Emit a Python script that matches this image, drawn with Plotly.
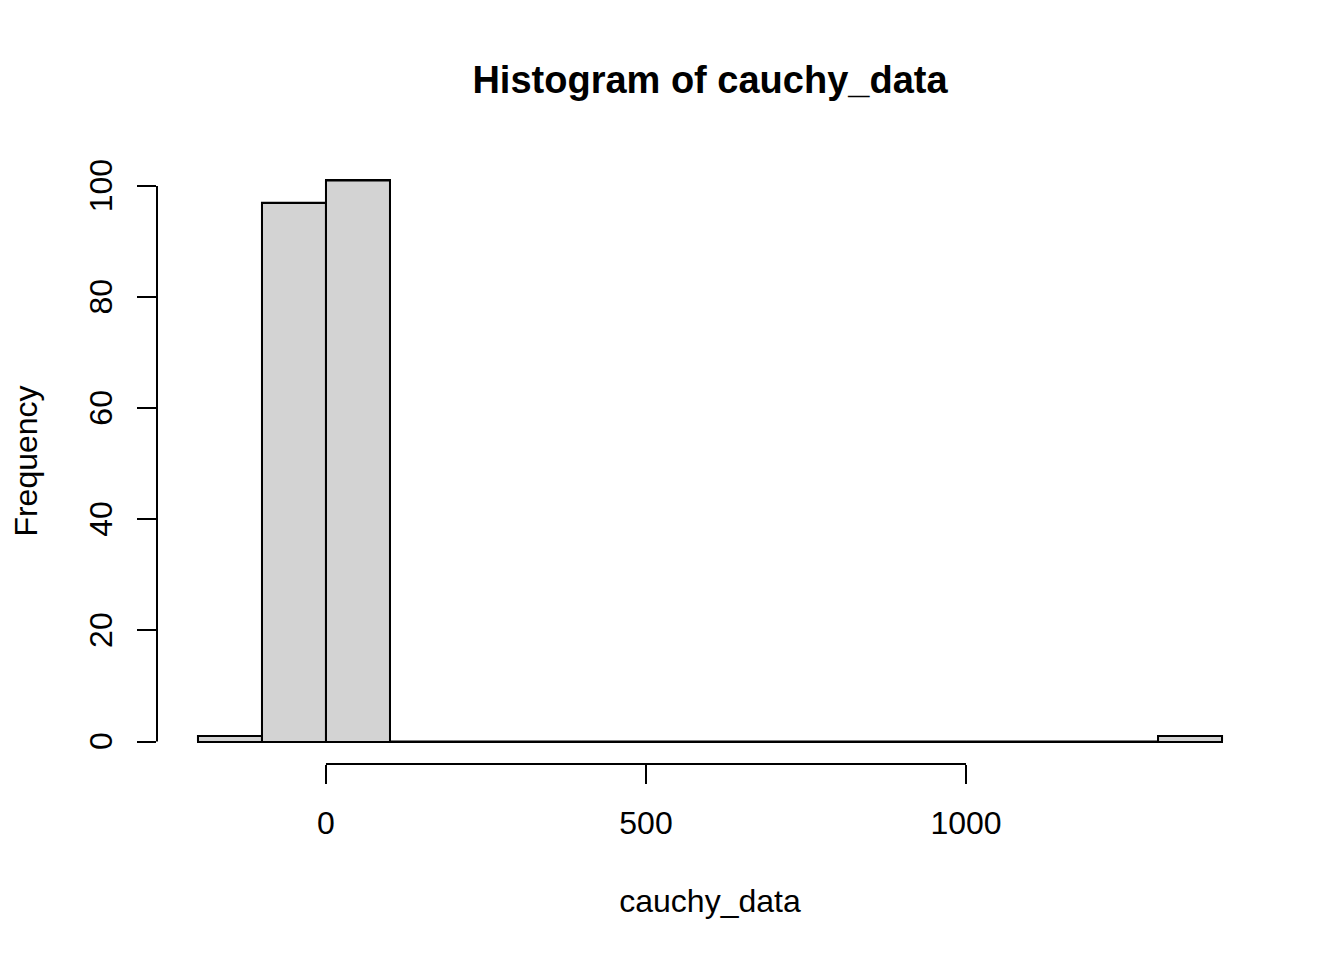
import plotly.graph_objects as go

bin_edges = [-200, -100, 0, 100, 200, 300, 400, 500, 600, 700, 800, 900, 1000, 1100, 1200, 1300, 1400]
counts = [1, 97, 101, 0, 0, 0, 0, 0, 0, 0, 0, 0, 0, 0, 0, 1]
x_ticks = [0, 500, 1000]
y_ticks = [0, 20, 40, 60, 80, 100]

centers = [(a + b) / 2 for a, b in zip(bin_edges[:-1], bin_edges[1:])]
widths = [b - a for a, b in zip(bin_edges[:-1], bin_edges[1:])]

FONT = "Liberation Sans, Arial, sans-serif"

fig = go.Figure()
fig.add_trace(go.Bar(
    x=centers, y=counts, width=widths,
    marker=dict(color="#D3D3D3", line=dict(color="black", width=2)),
    hoverinfo="skip", showlegend=False,
))

# outline of zero-height bins (flat borders)
ox, oy = [], []
for a, b, c in zip(bin_edges[:-1], bin_edges[1:], counts):
    ox += [a, a, b, b, None]
    oy += [0, c, c, 0, None]
fig.add_trace(go.Scatter(x=ox, y=oy, mode="lines", line=dict(color="black", width=2),
                         hoverinfo="skip", showlegend=False, connectgaps=False))

xmin, xmax = bin_edges[0], bin_edges[-1]
xr = [xmin - 0.04 * (xmax - xmin), xmax + 0.04 * (xmax - xmin)]
ymax = max(counts)
yr = [-0.04 * ymax, ymax * 1.04]

# axis segments spanning tick range only (R style)
fig.add_shape(type="line", xref="x", yref="paper", x0=x_ticks[0], x1=x_ticks[-1], y0=0, y1=0,
              line=dict(color="black", width=2))
fig.add_shape(type="line", xref="paper", yref="y", x0=0, x1=0, y0=y_ticks[0], y1=y_ticks[-1],
              line=dict(color="black", width=2))

fig.update_layout(
    width=1344, height=960,
    margin=dict(l=149, r=89, t=150, b=204),
    paper_bgcolor="white", plot_bgcolor="white",
    bargap=0,
    font=dict(family=FONT, size=32, color="black"),
    title=dict(text="<b>Histogram of cauchy_data</b>", x=0.5, xref="paper", xanchor="center",
               y=1 - 72 / 960, yanchor="middle", font=dict(size=38, family=FONT, color="black")),
    xaxis=dict(range=xr, showgrid=False, zeroline=False, showline=False, automargin=False,
               tickvals=x_ticks, ticktext=[str(v) for v in x_ticks],
               ticks="outside", ticklen=19, tickwidth=2, tickcolor="black",
               ticklabelstandoff=12,
               title=dict(text="cauchy_data", font=dict(size=32), standoff=49)),
    yaxis=dict(range=yr, showgrid=False, zeroline=False, showline=False, automargin=False,
               tickvals=y_ticks, ticktext=[str(v) + "\u00a0" for v in y_ticks],
               ticks="outside", ticklen=19, tickwidth=2, tickcolor="black",
               tickangle=-90, ticklabelstandoff=12,
               title=dict(text="Frequency", font=dict(size=32), standoff=38)),
)

fig.write_html("out.html")
